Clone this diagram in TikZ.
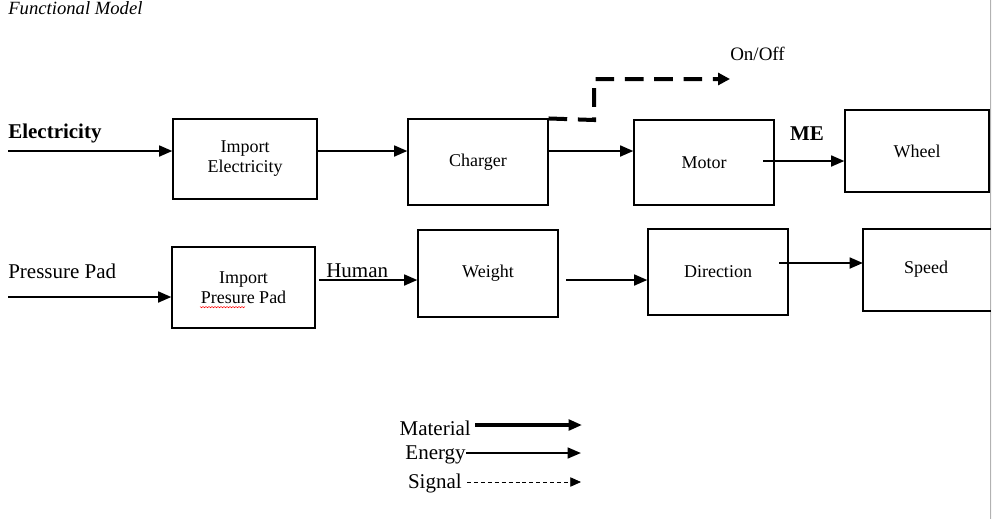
\documentclass[tikz,border=0pt]{standalone}
\usepackage{fontspec}
\setmainfont{Liberation Serif}
\usetikzlibrary{arrows.meta}
\begin{document}
\begin{tikzpicture}[x=0.75pt,y=-0.75pt,
  fbox/.style={draw=black,line width=0.8pt,inner sep=0pt},
  boxtxt/.style={font=\fontsize{13.5}{15}\selectfont,align=center},
  lbl/.style={font=\fontsize{15.75}{18}\selectfont,inner sep=0pt},
  flow/.style={line width=2pt,-{Triangle[length=10pt,width=8pt]}},
  sig/.style={line width=3pt,dash pattern=on 14pt off 8pt,-{Triangle[length=9pt,width=9pt]}},
  legmat/.style={line width=2.4pt,-{Triangle[length=10pt,width=8pt]}},
  legen/.style={line width=1.7pt,-{Triangle[length=10pt,width=8pt]}},
  legsig/.style={line width=0.6pt,dash pattern=on 3pt off 2.2pt,-{Triangle[length=8pt,width=7pt]}}]
\useasboundingbox (0,0) rectangle (992,519);
\fill[white] (0,0) rectangle (992,519);
% page edge
\fill[black!3] (990.5,0) rectangle (992,519);
\draw[black!30,line width=0.6pt] (990.5,0) -- (990.5,519);

% title
\node[anchor=west,inner sep=0pt,font=\fontsize{14}{16}\selectfont\itshape] (title) at (8,8) {Functional Model};

% row 1 boxes
\node[fbox,minimum width=144*0.75pt,minimum height=80*0.75pt,boxtxt] (ie) at (245,159) {Import\\Electricity};
\node[fbox,minimum width=140*0.75pt,minimum height=86*0.75pt,boxtxt] (ch) at (478,162) {Charger};
\node[fbox,minimum width=140*0.75pt,minimum height=85*0.75pt,boxtxt] (mo) at (704,162.5) {Motor};
\node[fbox,minimum width=144*0.75pt,minimum height=82*0.75pt,boxtxt] (wh) at (917,151) {Wheel};

% row 1 texts
\node[lbl,anchor=west,font=\fontsize{15.75}{18}\selectfont\bfseries] (elec) at (8,133) {Electricity};
\node[lbl,anchor=center,font=\fontsize{15.75}{18}\selectfont\bfseries] (me) at (807,134) {ME};
\node[lbl,anchor=west,font=\fontsize{14.25}{16}\selectfont] (onoff) at (730,54) {On/Off};

\coordinate (e0) at (8,151);
\coordinate (s1) at (594,120);
\coordinate (s2) at (594,79);
\coordinate (s3) at (730,79);
\coordinate (m0) at (763,161);

\draw[flow] (e0) -- (ie.west |- e0);
\draw[flow] (ie.east |- e0) -- (ch.west |- e0);
\draw[flow] (ch.east |- e0) -- (mo.west |- e0);
\draw[flow] (m0) -- (wh.west |- m0);
\draw[sig] (ch.north east) -- (s1) -- (s2) -- (s3);

% row 2 boxes
\node[fbox,minimum width=143*0.75pt,minimum height=81*0.75pt,boxtxt] (ip) at (243.5,287.5) {Import\\Presure Pad};
\node[fbox,minimum width=140*0.75pt,minimum height=87*0.75pt,boxtxt] (we) at (488,273.5) {Weight};
\node[fbox,minimum width=140*0.75pt,minimum height=86*0.75pt,boxtxt] (di) at (718,272) {Direction};
% speed box, cut by page edge
\coordinate (sp1) at (863,229);
\coordinate (sp2) at (863,311);
\draw[line width=0.8pt] (990.5,229) -- (sp1) -- (sp2) -- (990.5,311);
\node[boxtxt,inner sep=0pt] (sp) at (926,269) {Speed};

% row 2 texts
\node[lbl,anchor=west] (pp) at (8,271) {Pressure Pad};
\node[lbl,anchor=west] (hu) at (326,271) {Human};

\coordinate (p0) at (8,297);
\coordinate (h0) at (319,280);
\coordinate (w0) at (566,280);
\coordinate (d0) at (779,263);

% spell-check squiggle under Presure
\draw[red,line width=0.4pt] (200,306.5) \foreach \i in {0,...,14} {-- ++(1.5,1.2) -- ++(1.5,-1.2)};

\draw[flow] (p0) -- (ip.west |- p0);
\draw[flow] (h0) -- (we.west |- h0);
\draw[flow] (w0) -- (di.west |- w0);
\draw[flow] (d0) -- (sp1 |- d0);

% legend
\node[lbl,anchor=east] (lmat) at (471,428) {Material};
\node[lbl,anchor=east] (len) at (466,455) {Energy};
\node[lbl,anchor=east] (lsig) at (462,483) {Signal};
\coordinate (lm1) at (582,425);
\coordinate (le1) at (581,453);
\coordinate (ls1) at (581,482);
\draw[legmat] (lmat.east |- lm1) ++(4,0) -- (lm1);
\draw[legen] (len.east |- le1) -- (le1);
\draw[legsig] (lsig.east |- ls1) ++(5,0) -- (ls1);
\end{tikzpicture}
\end{document}
